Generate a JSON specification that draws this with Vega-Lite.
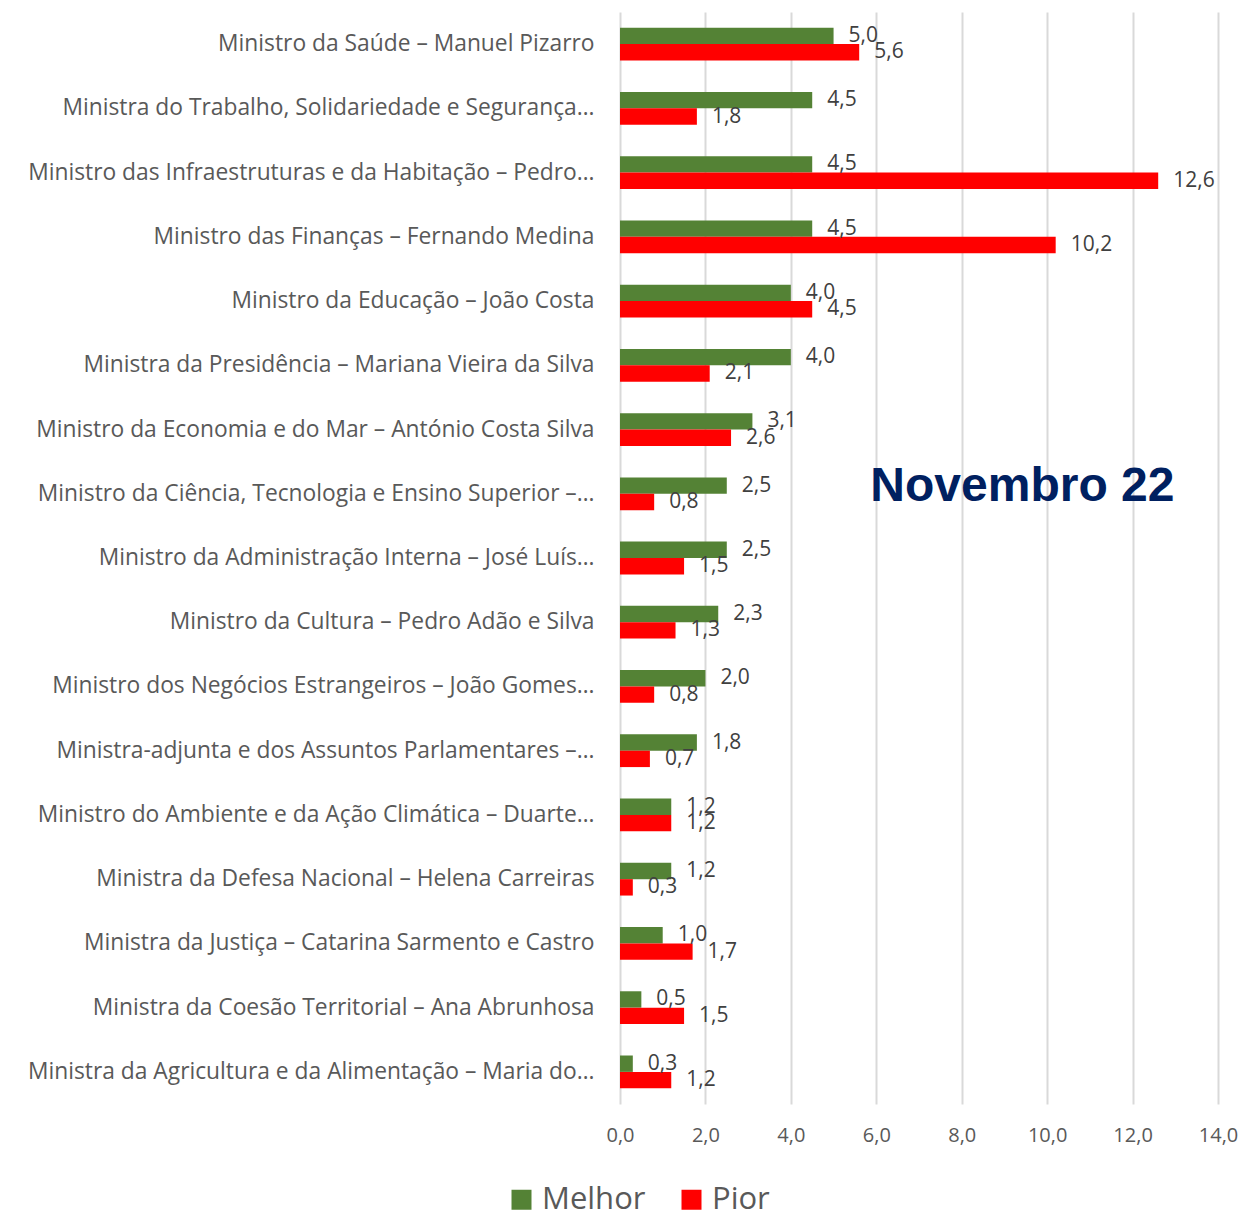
{
  "$schema": "https://vega.github.io/schema/vega-lite/v6.json",
  "autosize": {"type": "none"},
  "padding": {"left": 620, "top": 12, "right": 24, "bottom": 108},
  "width": 598,
  "height": 1092,
  "background": "white",
  "config": {
    "locale": {"number": {"decimal": ",", "thousands": ".", "grouping": [3], "currency": ["", " €"]}},
    "view": {"stroke": null},
    "font": "Open Sans"
  },
  "datasets": {
    "main": [
      {"ministro": "Ministro da Saúde – Manuel Pizarro", "serie": "Melhor", "valor": 5.0},
      {"ministro": "Ministro da Saúde – Manuel Pizarro", "serie": "Pior", "valor": 5.6},
      {"ministro": "Ministra do Trabalho, Solidariedade e Segurança…", "serie": "Melhor", "valor": 4.5},
      {"ministro": "Ministra do Trabalho, Solidariedade e Segurança…", "serie": "Pior", "valor": 1.8},
      {"ministro": "Ministro das Infraestruturas e da Habitação – Pedro…", "serie": "Melhor", "valor": 4.5},
      {"ministro": "Ministro das Infraestruturas e da Habitação – Pedro…", "serie": "Pior", "valor": 12.6},
      {"ministro": "Ministro das Finanças – Fernando Medina", "serie": "Melhor", "valor": 4.5},
      {"ministro": "Ministro das Finanças – Fernando Medina", "serie": "Pior", "valor": 10.2},
      {"ministro": "Ministro da Educação – João Costa", "serie": "Melhor", "valor": 4.0},
      {"ministro": "Ministro da Educação – João Costa", "serie": "Pior", "valor": 4.5},
      {"ministro": "Ministra da Presidência – Mariana Vieira da Silva", "serie": "Melhor", "valor": 4.0},
      {"ministro": "Ministra da Presidência – Mariana Vieira da Silva", "serie": "Pior", "valor": 2.1},
      {"ministro": "Ministro da Economia e do Mar – António Costa Silva", "serie": "Melhor", "valor": 3.1},
      {"ministro": "Ministro da Economia e do Mar – António Costa Silva", "serie": "Pior", "valor": 2.6},
      {"ministro": "Ministro da Ciência, Tecnologia e Ensino Superior –…", "serie": "Melhor", "valor": 2.5},
      {"ministro": "Ministro da Ciência, Tecnologia e Ensino Superior –…", "serie": "Pior", "valor": 0.8},
      {"ministro": "Ministro da Administração Interna – José Luís…", "serie": "Melhor", "valor": 2.5},
      {"ministro": "Ministro da Administração Interna – José Luís…", "serie": "Pior", "valor": 1.5},
      {"ministro": "Ministro da Cultura – Pedro Adão e Silva", "serie": "Melhor", "valor": 2.3},
      {"ministro": "Ministro da Cultura – Pedro Adão e Silva", "serie": "Pior", "valor": 1.3},
      {"ministro": "Ministro dos Negócios Estrangeiros – João Gomes…", "serie": "Melhor", "valor": 2.0},
      {"ministro": "Ministro dos Negócios Estrangeiros – João Gomes…", "serie": "Pior", "valor": 0.8},
      {"ministro": "Ministra-adjunta e dos Assuntos Parlamentares –…", "serie": "Melhor", "valor": 1.8},
      {"ministro": "Ministra-adjunta e dos Assuntos Parlamentares –…", "serie": "Pior", "valor": 0.7},
      {"ministro": "Ministro do Ambiente e da Ação Climática – Duarte…", "serie": "Melhor", "valor": 1.2},
      {"ministro": "Ministro do Ambiente e da Ação Climática – Duarte…", "serie": "Pior", "valor": 1.2},
      {"ministro": "Ministra da Defesa Nacional – Helena Carreiras", "serie": "Melhor", "valor": 1.2},
      {"ministro": "Ministra da Defesa Nacional – Helena Carreiras", "serie": "Pior", "valor": 0.3},
      {"ministro": "Ministra da Justiça – Catarina Sarmento e Castro", "serie": "Melhor", "valor": 1.0},
      {"ministro": "Ministra da Justiça – Catarina Sarmento e Castro", "serie": "Pior", "valor": 1.7},
      {"ministro": "Ministra da Coesão Territorial – Ana Abrunhosa", "serie": "Melhor", "valor": 0.5},
      {"ministro": "Ministra da Coesão Territorial – Ana Abrunhosa", "serie": "Pior", "valor": 1.5},
      {"ministro": "Ministra da Agricultura e da Alimentação – Maria do…", "serie": "Melhor", "valor": 0.3},
      {"ministro": "Ministra da Agricultura e da Alimentação – Maria do…", "serie": "Pior", "valor": 1.2}
    ],
    "titulo": [{"t": "Novembro 22"}]
  },
  "layer": [
    {
      "data": {"name": "main"},
      "mark": {"type": "bar"},
      "encoding": {
        "y": {
          "field": "ministro", "type": "nominal", "sort": null,
          "scale": {"paddingInner": 0.49, "paddingOuter": 0.245},
          "axis": {"title": null, "domain": false, "ticks": false, "labelPadding": 26, "labelFontSize": 22.8, "labelColor": "#595959", "labelLimit": 600}
        },
        "yOffset": {"field": "serie", "type": "nominal", "sort": ["Melhor", "Pior"]},
        "x": {
          "field": "valor", "type": "quantitative",
          "scale": {"domain": [0, 14]},
          "axis": {"values": [0, 2, 4, 6, 8, 10, 12, 14], "format": ".1f", "title": null, "grid": true, "gridColor": "#d9d9d9", "gridWidth": 2, "domain": false, "ticks": false, "labelFlush": false, "labelPadding": 21, "labelFontSize": 20, "labelColor": "#595959"}
        },
        "color": {
          "field": "serie", "type": "nominal",
          "scale": {"domain": ["Melhor", "Pior"], "range": ["#548235", "#ff0000"]},
          "legend": {"orient": "none", "legendX": -114, "legendY": 1172, "direction": "horizontal", "title": null, "labelFontSize": 31, "labelColor": "#595959", "symbolType": "square", "symbolSize": 400, "symbolStrokeWidth": 0, "symbolOpacity": 1, "columnPadding": 30, "labelOffset": 5}
        }
      }
    },
    {
      "data": {"name": "main"},
      "mark": {"type": "text", "align": "left", "baseline": "middle", "dx": 15, "fontSize": 21, "color": "#404040"},
      "encoding": {
        "y": {"field": "ministro", "type": "nominal", "sort": null},
        "yOffset": {"field": "serie", "type": "nominal", "sort": ["Melhor", "Pior"]},
        "x": {"field": "valor", "type": "quantitative"},
        "text": {"field": "valor", "type": "quantitative", "format": ".1f"}
      }
    },
    {
      "data": {"name": "titulo"},
      "mark": {"type": "text", "font": "Liberation Sans", "fontWeight": "bold", "fontSize": 48, "color": "#002060", "align": "center", "baseline": "middle", "dy": -7},
      "encoding": {
        "x": {"datum": 9.42, "type": "quantitative"},
        "y": {"datum": "Ministro da Ciência, Tecnologia e Ensino Superior –…", "type": "nominal"},
        "text": {"field": "t"}
      }
    }
  ]
}
